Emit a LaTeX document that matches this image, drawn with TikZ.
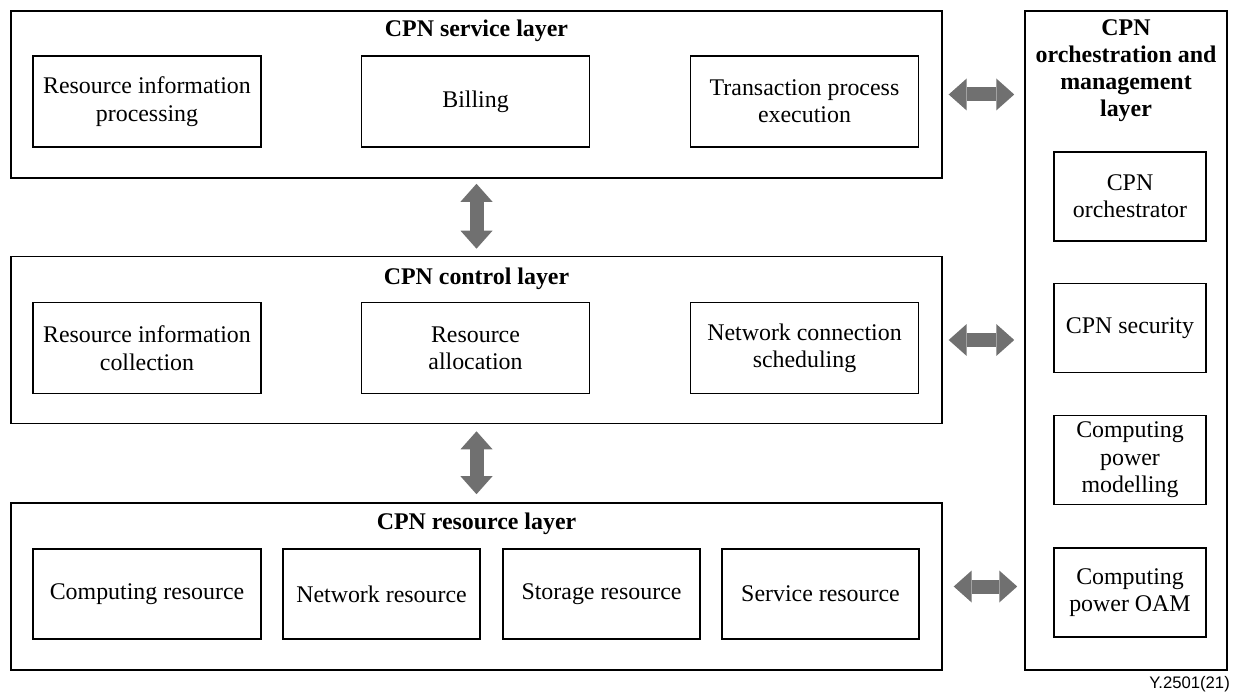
\documentclass[tikz,border=0pt]{standalone}
\usepackage{fontspec}
\setmainfont{Liberation Serif}
\newfontfamily\figfont{Liberation Sans}
\usepackage{tikz}
\usetikzlibrary{arrows.meta,positioning,calc}
\definecolor{arrowgray}{RGB}{112,112,112}
\tikzset{
  layer/.style={rectangle,draw,line width=0.9pt,minimum width=18.62cm,minimum height=3.34cm,inner sep=0pt},
  fn/.style={rectangle,draw,line width=0.8pt,align=center,minimum width=4.56cm,minimum height=1.82cm,inner sep=2pt,font=\fontsize{13.6}{15.6}\selectfont},
  ttl/.style={align=center,font=\bfseries\fontsize{13.6}{15.4}\selectfont},
  fat/.style={draw=arrowgray,line width=0.28cm,{Triangle[length=0.36cm,width=0.64cm,line width=0pt]}-{Triangle[length=0.36cm,width=0.64cm,line width=0pt]}}
}
\begin{document}
\begin{tikzpicture}[x=0.02cm,y=-0.02cm]
    \useasboundingbox (0,0) rectangle (1236,692);

    % Service layer
    \node[layer] (svc) at (476.5,94.5) {};
    \node[ttl] (svct) at (476.5,31) {CPN service layer};
    \node[fn] (rip) at (147,101.5) {Resource information\\processing};
    \node[fn] (bill) at (475.5,101.5) {Billing};
    \node[fn] (tpe) at (804.5,101.5) {Transaction process\\execution};

    % Control layer
    \node[layer] (ctl) at (476.5,340) {};
    \node[ttl] (ctlt) at (476.5,279) {CPN control layer};
    \node[fn] (ric) at (147,348) {Resource information\\collection};
    \node[fn] (ralloc) at (475.5,348) {Resource\\allocation};
    \node[fn] (ncs) at (804.5,348) {Network connection\\scheduling};

    % Resource layer
    \node[layer] (res) at (476.5,586.5) {};
    \node[ttl] (rest) at (476.5,524) {CPN resource layer};
    \node[fn, minimum height=1.8cm] (comp) at (147,594) {Computing resource};
    \node[fn, minimum width=3.94cm, minimum height=1.8cm] (net) at (381.5,594) {Network resource};
    \node[fn, minimum width=3.94cm, minimum height=1.8cm] (stor) at (601.5,594) {Storage resource};
    \node[fn, minimum width=3.94cm, minimum height=1.8cm] (serv) at (820.5,594) {Service resource};

    % Orchestration and management layer
    \node[layer, minimum width=4.04cm, minimum height=13.18cm] (om) at (1126,340.5) {};
    \node[ttl] (omt) at (1126,71) {CPN\\orchestration and\\management\\layer};
    \node[fn, minimum width=3.04cm, minimum height=1.78cm] (orch) at (1130,196.5) {CPN\\orchestrator};
    \node[fn, minimum width=3.04cm, minimum height=1.78cm] (sec) at (1130,328) {CPN security};
    \node[fn, minimum width=3.04cm, minimum height=1.78cm] (model) at (1130,460) {Computing\\power\\modelling};
    \node[fn, minimum width=3.04cm, minimum height=1.78cm] (oam) at (1130,592.5) {Computing\\power OAM};

    % Arrows between layers
    \draw[fat] ([yshift=-0.1cm]svc.south) -- ([yshift=0.14cm]ctl.north);
    \draw[fat] ([yshift=-0.14cm]ctl.south) -- ([yshift=0.16cm]res.north);
    \draw[fat] ([xshift=0.12cm]svc.east) -- ([xshift=-0.2cm]om.west |- svc.east);
    \draw[fat] ([xshift=0.12cm]ctl.east) -- ([xshift=-0.2cm]om.west |- ctl.east);
    \draw[fat] ([xshift=0.22cm]res.east) -- ([xshift=-0.14cm]om.west |- res.east);

    \node[anchor=east, font=\figfont\fontsize{9.5}{11}\selectfont] (fig) at (1236,684) {Y.2501(21)};
\end{tikzpicture}
\end{document}
